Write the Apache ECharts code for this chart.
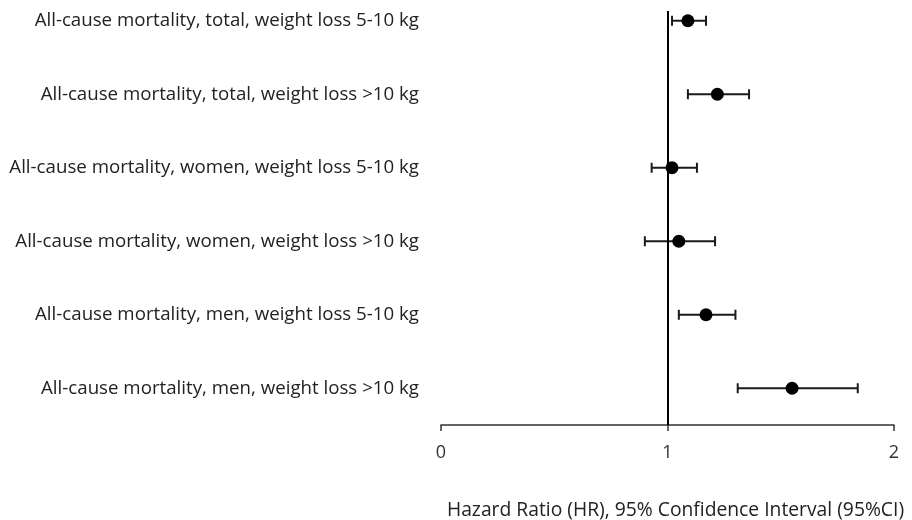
<!DOCTYPE html>
<html>
<head>
<meta charset="utf-8">
<script src="https://cdn.jsdelivr.net/npm/echarts@6/dist/echarts.min.js"></script>
<style>
html,body{margin:0;padding:0;background:#fff;}
#chart{width:912px;height:520px;}
</style>
</head>
<body>
<div id="chart"></div>
<script>
var categories = [
  "All-cause mortality, total, weight loss 5-10 kg",
  "All-cause mortality, total, weight loss >10 kg",
  "All-cause mortality, women, weight loss 5-10 kg",
  "All-cause mortality, women, weight loss >10 kg",
  "All-cause mortality, men, weight loss 5-10 kg",
  "All-cause mortality, men, weight loss >10 kg"
];
var hr    = [1.09, 1.22, 1.02, 1.05, 1.17, 1.55];
var ciLow = [1.02, 1.09, 0.93, 0.90, 1.05, 1.31];
var ciHigh= [1.17, 1.36, 1.13, 1.21, 1.30, 1.84];
var xTicks = [0, 1, 2];
var axisTitle = "Hazard Ratio (HR), 95% Confidence Interval (95%CI)";

var n = categories.length;
function rowPos(i){ return n - i - 0.5; }
var rowValues = categories.map(function(c,i){ return rowPos(i); });

var pointData = hr.map(function(v,i){ return [v, rowPos(i)]; });
var barData = hr.map(function(v,i){ return [ciLow[i], ciHigh[i], rowPos(i)]; });

var chart = echarts.init(document.getElementById('chart'), null, {renderer:'canvas'});
var FONT = 'Open Sans';
chart.setOption({
  animation: false,
  backgroundColor: '#ffffff',
  grid: {left: 441, right: 18, top: 11, bottom: 95, containLabel: false, outerBoundsMode: 'none'},
  xAxis: {
    type: 'value', min: xTicks[0], max: xTicks[xTicks.length-1], interval: 1,
    axisLine: {show: true, lineStyle: {color: '#333', width: 1.5}},
    axisTick: {show: true, length: 6, lineStyle: {color: '#333', width: 1.5}},
    axisLabel: {color: '#333', fontSize: 18, fontFamily: FONT, margin: 19},
    splitLine: {show: false},
    name: axisTitle, nameLocation: 'middle', nameGap: 76,
    nameTextStyle: {color: '#222', fontSize: 19.3, fontFamily: FONT, padding: [0,0,0,16]}
  },
  yAxis: {
    type: 'value', min: 0, max: 5.633,
    axisLine: {show: false}, axisTick: {show: false}, splitLine: {show: false},
    axisLabel: {
      show: true, customValues: rowValues, margin: 22,
      color: '#222', fontSize: 18.7, fontFamily: FONT,
      formatter: function(v){ var i = Math.round(n - 0.5 - v); return categories[i] || ''; }
    }
  },
  series: [
    {
      type: 'custom',
      data: barData,
      encode: {x: [0,1], y: 2},
      renderItem: function(params, api){
        var y = api.value(2);
        var p1 = api.coord([api.value(0), y]);
        var p2 = api.coord([api.value(1), y]);
        var cap = 5;
        var st = {stroke: '#1a1a1a', lineWidth: 2};
        return {type: 'group', children: [
          {type:'line', shape:{x1:p1[0], y1:p1[1], x2:p2[0], y2:p2[1]}, style: st},
          {type:'line', shape:{x1:p1[0], y1:p1[1]-cap, x2:p1[0], y2:p1[1]+cap}, style: st},
          {type:'line', shape:{x1:p2[0], y1:p2[1]-cap, x2:p2[0], y2:p2[1]+cap}, style: st}
        ]};
      },
      z: 2
    },
    {
      type: 'scatter',
      data: pointData,
      symbol: 'circle', symbolSize: 13,
      itemStyle: {color: '#000', opacity: 1},
      z: 3,
      markLine: {
        silent: true, symbol: ['none','none'],
        label: {show: false},
        lineStyle: {color: '#000', width: 2, type: 'solid', opacity: 1},
        data: [{xAxis: 1}]
      }
    }
  ]
});
</script>
</body>
</html>
